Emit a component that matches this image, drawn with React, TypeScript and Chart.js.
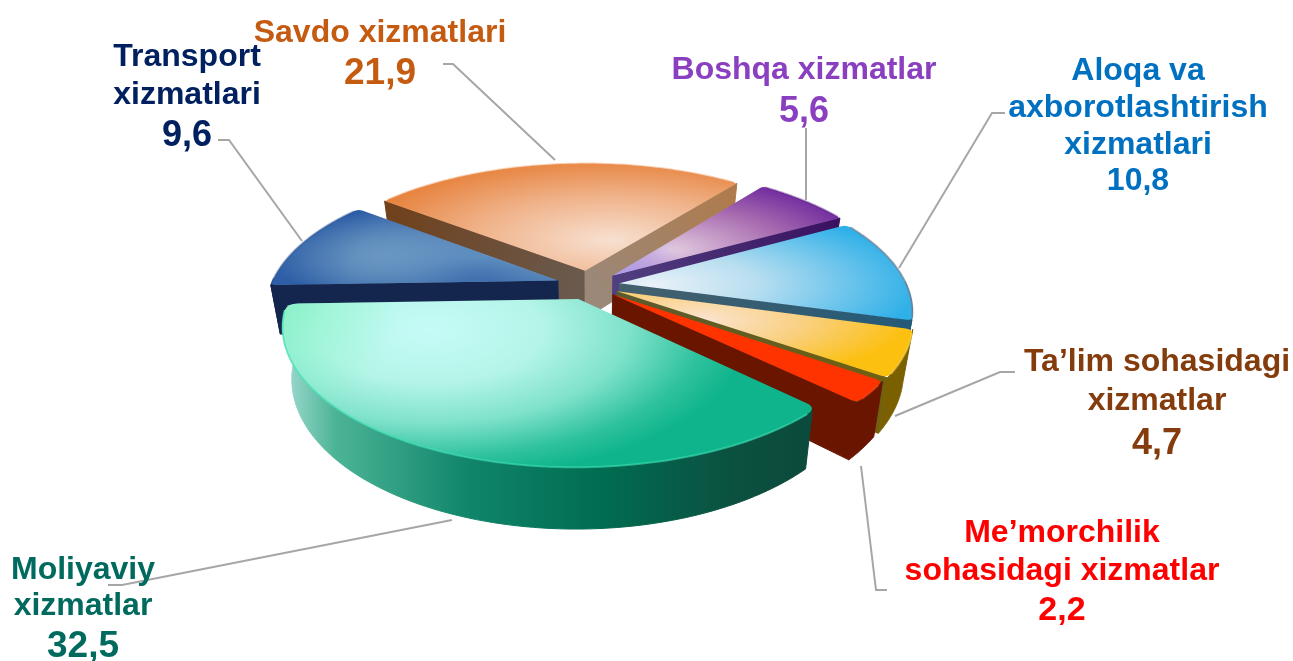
import React, { useEffect, useRef } from "react";
import { Chart, registerables } from "chart.js";

Chart.register(...registerables);

const categories = ["Moliyaviy xizmatlar", "Transport xizmatlari", "Savdo xizmatlari", "Boshqa xizmatlar", "Aloqa va axborotlashtirish xizmatlari", "Ta’lim sohasidagi xizmatlar", "Me’morchilik sohasidagi xizmatlar"];
const shares = [32.5, 9.6, 21.9, 5.6, 10.8, 4.7, 2.2];
const labelLines = [
  ["Moliyaviy", "xizmatlar"],
  ["Transport", "xizmatlari"],
  ["Savdo xizmatlari"],
  ["Boshqa xizmatlar"],
  ["Aloqa va", "axborotlashtirish", "xizmatlari"],
  ["Ta’lim sohasidagi", "xizmatlar"],
  ["Me’morchilik", "sohasidagi xizmatlar"],
];
const textColors = ["#006a5f", "#002060", "#c55a11", "#8a3fc0", "#0070c0", "#843c0c", "#ff0000"];
const labelX = [83, 187, 380, 804, 1138, 1157, 1062];
const labelBaselines = [
  [579, 615, 657],
  [66, 104, 146],
  [42, 84],
  [79, 122],
  [80, 117, 154, 190],
  [371, 410, 454],
  [542, 580, 620],
];
const numberSizes = [37, 36, 37, 36, 32, 36, 34];
const leaders = [
  [[108, 585], [122, 585], [452, 520]],
  [[218, 140], [229, 140], [302, 241]],
  [[443, 64], [453, 64], [555, 160]],
  [[806, 128], [806, 200]],
  [[1005, 113], [992, 113], [899, 268]],
  [[1015, 372], [1000, 372], [895, 416]],
  [[887, 590], [876, 590], [861, 466]],
];

type Face = { c: number[]; r: number[]; stops: [number, string][] };
const faces: Face[] = [
  { c: [430, 330], r: [320, 150], stops: [[0, "#c6fbf7"], [0.35, "#b4f5e8"], [0.62, "#7fe2ca"], [0.85, "#2fc29e"], [1, "#0fb48c"]] },
  { c: [480, 258], r: [210, 55], stops: [[0, "#a7d6e6"], [0.5, "#6f9cc4"], [1, "#2e5ea6"]] },
  { c: [610, 240], r: [260, 85], stops: [[0, "#f7e0d0"], [0.5, "#f0b48c"], [1, "#e67f38"]] },
  { c: [670, 250], r: [190, 70], stops: [[0, "#e2cce0"], [0.6, "#a86cb0"], [1, "#7430a0"]] },
  { c: [650, 285], r: [270, 80], stops: [[0, "#eaf2f8"], [0.4, "#b8def0"], [1, "#2fb0e8"]] },
  { c: [700, 320], r: [210, 60], stops: [[0, "#fbe4d2"], [0.5, "#f9d080"], [1, "#fcc010"]] },
  { c: [600, 300], r: [300, 100], stops: [[0, "#ff3300"], [1, "#ff3300"]] },
];
const glows: (null | { c: number[]; r: number; color: string; clear: string })[] = [
  { c: [288, 305], r: 110, color: "rgba(130,245,190,0.6)", clear: "rgba(130,245,190,0)" },
  { c: [480, 300], r: 130, color: "rgba(46,94,166,0.9)", clear: "rgba(46,94,166,0)" },
  null,
  { c: [625, 276], r: 60, color: "rgba(175,160,240,0.9)", clear: "rgba(175,160,240,0)" },
  null,
  null,
  null,
];
// only the edge that faces the viewer is drawn: start edge [near, far], end edge [near, far]
const cutWalls = [
  ["#0b4a3c", "#0b4a3c", "#0b4a3c", "#0b4a3c"],
  ["#14264d", "#14264d", "#14264d", "#14264d"],
  ["#6a5a4e", "#70401a", "#9b8878", "#b07a4a"],
  ["#3a3a8a", "#3a1060", "#504080", "#3a1060"],
  ["#45606c", "#245a78", "#45606c", "#245a78"],
  ["#5a5a30", "#706010", "#5a5a30", "#706010"],
  ["#6a1500", "#6a1500", "#6a1500", "#6a1500"],
];
const outerWalls = ["", "#14264d", "#8a4a1a", "#3a1060", "#245a78", "#7a6000", "#6a1500"];
const rimStrokes = ["rgba(60,225,180,0.6)", "rgba(40,80,150,0.4)", "rgba(240,150,90,0.4)", "rgba(90,30,130,0.4)", "rgba(110,130,150,0.7)", "rgba(255,220,90,0.5)", "rgba(255,90,40,0.4)"];
const cornerRadii = [12, 4, 3, 3, 5, 7, 7];
const sliceScale = [0.99, 1, 1.005, 1.01, 1, 1, 0.995];
const sliceNudgeX = [2, 0, 1, 1, 0, 0, 0];

const CX = 588;
const CY = 285;
const RX = 287;
const RY = 132;
const DEPTH = 49;
const TAPER = 0.03;
const PERSPECTIVE = 0.19;
const EXPLODE = 30;
const ROTATION = 134;

const pie3d = {
  id: "pie3d",
  beforeDatasetDraw(chart: any) {
    const ctx: CanvasRenderingContext2D = chart.ctx;
    const meta = chart.getDatasetMeta(0);
    const arcs = meta.data.map((el: any, i: number) => ({ el, i, mid: (el.startAngle + el.endAngle) / 2 }));
    arcs.sort((a: any, b: any) => Math.sin(a.mid) - Math.sin(b.mid));
    for (const { el, i, mid } of arcs) {
      const R0 = el.outerRadius;
      const off = el.options.offset / R0;
      const ox = Math.cos(mid) * off;
      const oy = Math.sin(mid) * off;
      const proj = (a: number, rr: number, z: number) => {
        const u = ox + rr * sliceScale[i] * Math.cos(a);
        const v = oy + rr * sliceScale[i] * Math.sin(a);
        const s = 1 / (1 - PERSPECTIVE * v);
        return [CX + sliceNudgeX[i] + RX * u * s * (1 - TAPER * z), CY + RY * v * s + z * DEPTH * s];
      };
      const steps = 96;
      const angle = (k: number) => el.startAngle + ((el.endAngle - el.startAngle) * k) / steps;
      const poly = (pts: number[][]) => {
        ctx.beginPath();
        pts.forEach((q, k) => (k ? ctx.lineTo(q[0], q[1]) : ctx.moveTo(q[0], q[1])));
        ctx.closePath();
      };
      const top: number[][] = [];
      const bottom: number[][] = [];
      for (let k = 0; k <= steps; k++) {
        top.push(proj(angle(k), 1, 0));
        bottom.push(proj(angle(k), 1, 1));
      }
      const apex = proj(0, 0, 0);
      const apexB = proj(0, 0, 1);
      const rad = cornerRadii[i];
      const trim = Math.ceil((rad * 1.1) / (RX * ((el.endAngle - el.startAngle) / steps)));
      const paint = (style: any) => {
        ctx.fillStyle = style;
        ctx.strokeStyle = style;
        ctx.lineWidth = 1;
        ctx.fill();
        ctx.stroke();
      };
      const wall = (corner: number[], cornerB: number[], near: string, far: string) => {
        const g = ctx.createLinearGradient(apex[0], apex[1], corner[0], corner[1]);
        g.addColorStop(0, near);
        g.addColorStop(1, far);
        poly([apex, corner, cornerB, apexB]);
        paint(g);
      };
      const w = cutWalls[i];
      if (Math.sin(el.startAngle - Math.PI / 2) > 0) wall(top[0], bottom[0], w[0], w[1]);
      if (Math.sin(el.endAngle + Math.PI / 2) > 0) wall(top[steps], bottom[steps], w[2], w[3]);
      // outer wall: only the part of the rim turned towards the viewer
      let wallStyle: any = outerWalls[i];
      if (!wallStyle) {
        const g = ctx.createLinearGradient(282, 0, 815, 0);
        g.addColorStop(0, "#a4dcd4");
        g.addColorStop(0.1, "#4cb496");
        g.addColorStop(0.35, "#10856a");
        g.addColorStop(0.6, "#006c50");
        g.addColorStop(0.85, "#0b5040");
        g.addColorStop(1, "#0b4a3c");
        wallStyle = g;
      }
      const idx: number[] = [];
      for (let k = 0; k <= steps; k++) if (Math.sin(angle(k)) > -0.02) idx.push(k);
      if (idx.length > 1) {
        const tt = idx.filter((k) => i !== 0 || (k < steps - trim / 2 && k > trim / 4));
        poly([...tt.map((k) => top[k]), ...tt.slice().reverse().map((k) => bottom[k])]);
        paint(wallStyle);
      }
      // top face with softened corners
      ctx.save();
      ctx.beginPath();
      const first = top[trim];
      const towards = (from: number[], to: number[], d: number) => {
        const len = Math.hypot(to[0] - from[0], to[1] - from[1]);
        return [from[0] + ((to[0] - from[0]) * d) / len, from[1] + ((to[1] - from[1]) * d) / len];
      };
      const a0 = towards(top[0], apex, rad);
      const a1 = towards(top[steps], apex, rad);
      ctx.moveTo(apex[0], apex[1]);
      ctx.lineTo(a0[0], a0[1]);
      ctx.quadraticCurveTo(top[0][0], top[0][1], first[0], first[1]);
      for (let k = trim; k <= steps - trim; k++) ctx.lineTo(top[k][0], top[k][1]);
      ctx.quadraticCurveTo(top[steps][0], top[steps][1], a1[0], a1[1]);
      ctx.closePath();
      ctx.clip();
      const f = faces[i];
      ctx.save();
      ctx.translate(f.c[0], f.c[1]);
      ctx.scale(f.r[0], f.r[1]);
      const rg = ctx.createRadialGradient(0, 0, 0, 0, 0, 1);
      f.stops.forEach(([p, c]) => rg.addColorStop(p, c));
      ctx.fillStyle = rg;
      ctx.fillRect(-20, -20, 40, 40);
      ctx.restore();
      const gl = glows[i];
      if (gl) {
        const g2 = ctx.createRadialGradient(gl.c[0], gl.c[1], 0, gl.c[0], gl.c[1], gl.r);
        g2.addColorStop(0, gl.color);
        g2.addColorStop(1, gl.clear);
        ctx.fillStyle = g2;
        ctx.fillRect(0, 0, 1293, 661);
      }
      ctx.restore();
      // bevelled rim
      ctx.strokeStyle = rimStrokes[i];
      ctx.lineWidth = 2;
      ctx.beginPath();
      for (let k = trim; k <= steps - trim; k++) (k > trim ? ctx.lineTo(top[k][0], top[k][1]) : ctx.moveTo(top[k][0], top[k][1]));
      ctx.stroke();
    }
    return false;
  },
  afterDatasetsDraw(chart: any) {
    const ctx: CanvasRenderingContext2D = chart.ctx;
    ctx.save();
    ctx.strokeStyle = "#a6a6a6";
    ctx.lineWidth = 2;
    leaders.forEach((pts) => {
      ctx.beginPath();
      pts.forEach((q, k) => (k ? ctx.lineTo(q[0], q[1]) : ctx.moveTo(q[0], q[1])));
      ctx.stroke();
    });
    ctx.textAlign = "center";
    ctx.textBaseline = "alphabetic";
    labelLines.forEach((lines, i) => {
      ctx.fillStyle = textColors[i];
      ctx.font = 'bold 32px "Liberation Sans"';
      lines.forEach((t, k) => ctx.fillText(t, labelX[i], labelBaselines[i][k]));
      ctx.font = `bold ${numberSizes[i]}px "Liberation Sans"`;
      ctx.fillText(String(shares[i]).replace(".", ","), labelX[i], labelBaselines[i][lines.length]);
    });
    ctx.restore();
  },
};

export default function App() {
  const ref = useRef<HTMLCanvasElement>(null);
  useEffect(() => {
    document.body.style.margin = "0";
    const chart = new Chart(ref.current!, {
      type: "pie",
      data: { labels: categories, datasets: [{ data: shares, offset: EXPLODE, borderWidth: 0, backgroundColor: textColors }] },
      options: {
        responsive: false,
        animation: false,
        rotation: ROTATION,
        layout: { padding: { right: 112, bottom: 90 } },
        plugins: { legend: { display: false }, tooltip: { enabled: false } },
      },
      plugins: [pie3d],
    } as any);
    return () => chart.destroy();
  }, []);
  return <canvas ref={ref} width={1293} height={661} style={{ display: "block" }} />;
}
